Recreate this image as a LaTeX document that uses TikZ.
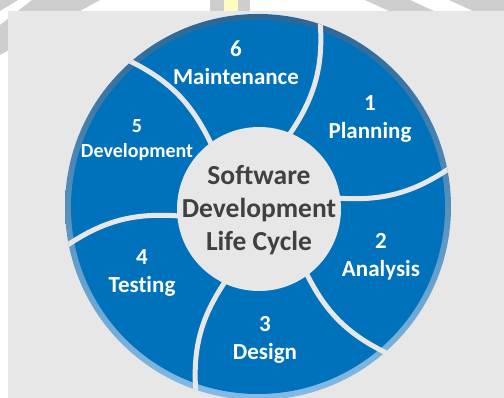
\documentclass[tikz,border=0pt]{standalone}
\usepackage{fontspec}
\setmainfont{Carlito}[Ligatures=NoCommon]
\usetikzlibrary{calc}
\definecolor{sdlcblue}{RGB}{0,113,187}
\definecolor{rimtop}{RGB}{42,102,150}
\definecolor{rimbot}{RGB}{130,188,230}
\definecolor{panel}{RGB}{231,231,231}
\definecolor{band}{RGB}{206,206,206}
\definecolor{ink}{RGB}{64,64,64}
\tikzset{
  phase/.style={text=white, align=center, font=\bfseries\fontsize{23}{28}\selectfont},
  divider/.style={draw=panel, line width=5pt}
}

\begin{document}
\begin{tikzpicture}[x=1pt, y=1pt]
	%%%%% START %%%%%
	\useasboundingbox (0,0) rectangle (504,398);
	\fill[white] (0,0) rectangle (504,398);
	
	% grey bands in the margin
	\fill[band] (0,398) -- (18,398) -- (0,387) -- cycle;
	\fill[band] (32,398) -- (100,398) -- (0,343) -- (0,373) -- cycle;
	\fill[band] (210,398) rectangle (250,387);
	\fill[yellow!25] (224,398) rectangle (238,387);
	\fill[band] (365,398) -- (410,398) -- (434,387) -- (389,387) -- cycle;
	\fill[band] (449,398) -- (504,398) -- (504,387) -- (473,387) -- cycle;
	
	\fill[panel] (8,0) rectangle (504,387);
	
	\coordinate (hub) at (258,191);
	\coordinate (core) at (259,189);
	
	% ring with its shaded rim
	\begin{scope}
		\clip (hub) circle (193);
		\shade[top color=rimtop, bottom color=rimbot] (hub) circle (193);
		\fill[sdlcblue] (hub) circle (187);
		
		\draw[divider] ($(hub)+(67:76)$) to[bend right=20] ($(hub)+(72:200)$);
		\draw[divider] ($(hub)+(7:76)$) to[bend right=20] ($(hub)+(12:200)$);
		\draw[divider] ($(hub)+(-53:76)$) to[bend right=20] ($(hub)+(-48:200)$);
		\draw[divider] ($(hub)+(-113:76)$) to[bend right=20] ($(hub)+(-108:200)$);
		\draw[divider] ($(hub)+(-173:76)$) to[bend right=20] ($(hub)+(-168:200)$);
		\draw[divider] ($(hub)+(127:76)$) to[bend right=20] ($(hub)+(132:200)$);
	\end{scope}
	
	\fill[panel] (core) circle (82);
	\node[text=ink, align=center, font=\bfseries\fontsize{27.5}{33}\selectfont] (title) at (259,188) {Software\\Development\\Life Cycle};
	
	\node[phase] (planning) at (370,279) {1\\Planning};
	\node[phase] (analysis) at (381,141) {2\\Analysis};
	\node[phase] (design) at (265,58) {3\\Design};
	\node[phase] (testing) at (142,125) {4\\Testing};
	\node[phase, font=\bfseries\fontsize{20}{25}\selectfont] (development) at (137,258) {5\\Development};
	\node[phase] (maintenance) at (236,335) {6\\Maintenance};
	
	%%%%% END %%%%%
\end{tikzpicture}
\end{document}
